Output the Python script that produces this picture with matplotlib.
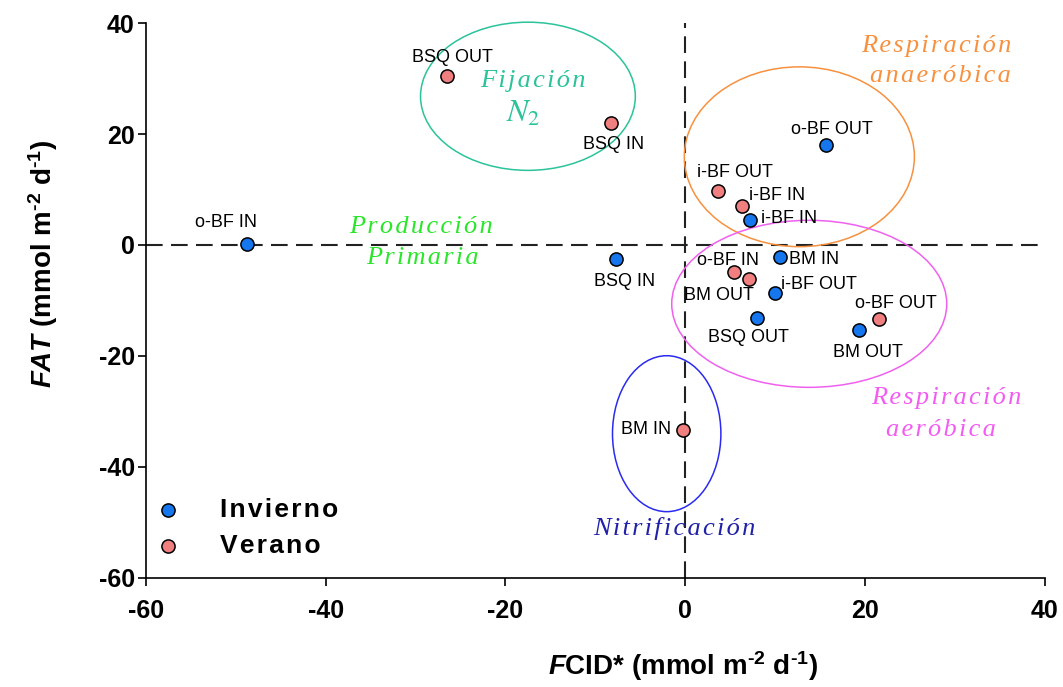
import matplotlib
matplotlib.use("Agg")
import matplotlib.pyplot as plt
from matplotlib.patches import Ellipse

plt.rcParams["font.family"] = ["Liberation Sans", "DejaVu Sans"]
plt.rcParams["mathtext.fontset"] = "custom"
plt.rcParams["mathtext.rm"] = "Liberation Sans:bold"
plt.rcParams["mathtext.bf"] = "Liberation Sans:bold"
plt.rcParams["mathtext.it"] = "Liberation Sans:italic:bold"
plt.rcParams["mathtext.bfit"] = "Liberation Sans:italic:bold"

# Winter (Invierno) sites
winter_labels = ["o-BF IN", "BSQ IN", "o-BF OUT", "i-BF IN", "BM IN",
                 "i-BF OUT", "BSQ OUT", "BM OUT"]
winter_fcid = [-48.8, -7.7, 15.7, 7.2, 10.5, 10.0, 8.0, 19.3]
winter_fat = [0.1, -2.5, 18.1, 4.5, -2.1, -8.7, -13.2, -15.3]

# Summer (Verano) sites
summer_labels = ["BSQ OUT", "BSQ IN", "i-BF OUT", "i-BF IN", "o-BF IN",
                 "BM OUT", "o-BF OUT", "BM IN"]
summer_fcid = [-26.5, -8.3, 3.7, 6.3, 5.4, 7.1, 21.6, -0.3]
summer_fat = [30.5, 21.9, 9.8, 7.1, -4.8, -6.1, -13.4, -33.3]

x_ticks = [-60, -40, -20, 0, 20, 40]
y_ticks = [-60, -40, -20, 0, 20, 40]

# label placement: (dx, dy) in points and horizontal alignment
winter_offsets = [(-15, 16, "center"), (6, -16, "center"), (4, 11, "center"),
                  (8, 1, "left"), (7, -2, "left"), (4, 6.5, "left"),
                  (-6, -14, "center"), (6.5, -16, "center")]
summer_offsets = [(4, 13, "center"), (2, -15, "center"), (12, 13, "center"),
                  (5, 7, "left"), (-4, 8, "center"), (-21.5, -12, "center"),
                  (12, 11.5, "center"), (-8.5, 0, "right")]


def spaced(s):
    """Open up the letter spacing with hair spaces."""
    return "\u200a".join(s)


fig = plt.figure(figsize=(10.63, 6.87), dpi=100)
ax = fig.add_axes([0.1373, 0.1587, 0.8455, 0.8078])
ax.set_xlim(-60, 40)
ax.set_ylim(-60, 40)

# process regions
serif = ["Liberation Serif", "DejaVu Serif"]
regions = [
    ((-17.5, 26.8), 23.9, 26.7, "#2bc39a"),
    ((12.7, 15.9), 25.6, 32.4, "#f7913f"),
    ((13.8, -10.6), 30.6, 30.1, "#f060f0"),
    ((-2.06, -34.0), 12.06, 28.1, "#2a2af0"),
]
for center, w, h, col in regions:
    ax.add_patch(Ellipse(center, w, h, fill=False, edgecolor=col, lw=1.1,
                         zorder=2, clip_on=False))

ax.axhline(0, color="#222222", lw=1.5, ls=(0, (8, 4)), zorder=1)
ax.axvline(0, color="#222222", lw=1.5, ls=(0, (8, 4)), zorder=1)

tkw = dict(fontfamily=serif, style="italic", fontsize=19, ha="center", va="center")
ax.text(27.9, 35.9, spaced("Respiración"), color="#f7913f", **tkw)
ax.text(28.4, 30.4, spaced("anaeróbica"), color="#f7913f", **tkw)
ax.text(-17.0, 29.5, spaced("Fijación"), color="#2bc39a", **tkw)
ax.text(-18.0, 23.6, r"$N_2$", color="#2bc39a", fontsize=23, ha="center", va="center",
        math_fontfamily="stix")
ax.text(-29.4, 3.3, spaced("Producción"), color="#2ae62a", **tkw)
ax.text(-29.2, -2.4, spaced("Primaria"), color="#2ae62a", **tkw)
ax.text(29.1, -27.6, spaced("Respiración"), color="#f25cf2", **tkw)
ax.text(28.5, -33.3, spaced("aeróbica"), color="#f25cf2", **tkw)
ax.text(-1.2, -51.0, spaced("Nitrificación"), color="#2020a8", **tkw)

blue = "#1576ee"
red = "#f08080"
ax.scatter(winter_fcid, winter_fat, s=90, c=blue, edgecolors="black",
           linewidths=1.1, zorder=4, label=spaced("Invierno"))
ax.scatter(summer_fcid, summer_fat, s=90, c=red, edgecolors="black",
           linewidths=1.1, zorder=4, label=spaced("Verano"))

for labels, xs, ys, offs in [(winter_labels, winter_fcid, winter_fat, winter_offsets),
                             (summer_labels, summer_fcid, summer_fat, summer_offsets)]:
    for lab, x, y, (dx, dy, ha) in zip(labels, xs, ys, offs):
        ax.annotate(lab, (x, y), xytext=(dx, dy), textcoords="offset points",
                    ha=ha, va="center", fontsize=13, zorder=5)

for s in ["top", "right"]:
    ax.spines[s].set_visible(False)
for s in ["left", "bottom"]:
    ax.spines[s].set_linewidth(1.2)

ax.set_xticks(x_ticks)
ax.set_yticks(y_ticks)
ax.set_xticklabels([str(v) for v in x_ticks], fontsize=18, fontweight="bold")
ax.set_yticklabels([str(v) for v in y_ticks], fontsize=18, fontweight="bold")
ax.tick_params(direction="out", length=6, width=1.2)
ax.tick_params(axis="x", pad=9)
ax.tick_params(axis="y", pad=2)

ax.set_xlabel(r"$\mathit{F}$CID* (mmol m$^{\text{-2}}$ d$^{\text{-1}}$)", fontsize=20,
              fontweight="bold")
ax.set_ylabel(r"$\mathit{FAT}$ (mmol m$^{\text{-2}}$ d$^{\text{-1}}$)", fontsize=20,
              fontweight="bold")
ax.xaxis.set_label_coords(0.598, -0.128)
ax.yaxis.set_label_coords(-0.096, 0.566)

leg = ax.legend(loc="upper left", bbox_to_anchor=(-0.0165, 0.187), frameon=False,
                handlelength=1.0, handletextpad=1.45, labelspacing=0.45,
                prop={"weight": "bold", "size": 19})

fig.savefig("out.png", dpi=100)
